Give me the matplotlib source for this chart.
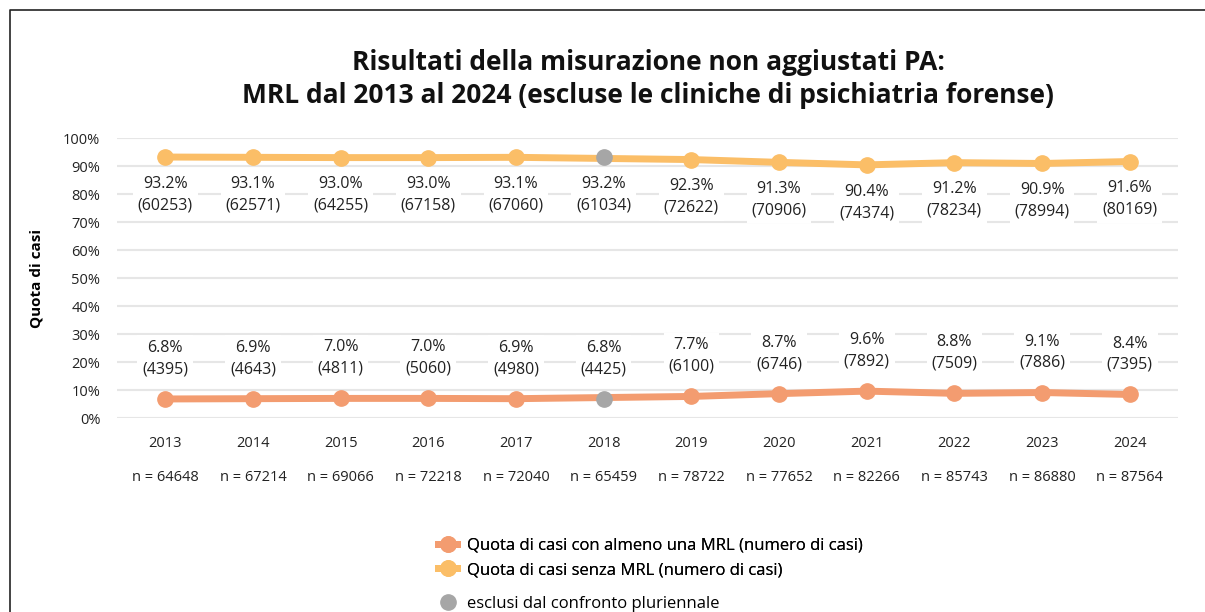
import matplotlib.pyplot as plt
from matplotlib.lines import Line2D
import numpy as np

plt.rcParams["font.family"] = ["Open Sans", "DejaVu Sans"]

years = [2013, 2014, 2015, 2016, 2017, 2018, 2019, 2020, 2021, 2022, 2023, 2024]
share_with = [6.8, 6.9, 7.0, 7.0, 6.9, 6.8, 7.7, 8.7, 9.6, 8.8, 9.1, 8.4]
cases_with = [4395, 4643, 4811, 5060, 4980, 4425, 6100, 6746, 7892, 7509, 7886, 7395]
share_without = [93.2, 93.1, 93.0, 93.0, 93.1, 93.2, 92.3, 91.3, 90.4, 91.2, 90.9, 91.6]
cases_without = [60253, 62571, 64255, 67158, 67060, 61034, 72622, 70906, 74374, 78234, 78994, 80169]
n_total = [64648, 67214, 69066, 72218, 72040, 65459, 78722, 77652, 82266, 85743, 86880, 87564]
excluded_years = [2018]

C_WITH = "#F39C70"
C_WITHOUT = "#FBBE67"
C_EXCL = "#A6A6A6"
TXT = "#222222"

fig = plt.figure(figsize=(12.05, 6.12), dpi=100)
ax = fig.add_axes([117 / 1205, 194 / 612, 1061 / 1205, 280 / 612])

x = np.array(years)
keep = ~np.isin(x, excluded_years)
excl = ~keep

for vals, color in ((share_without, C_WITHOUT), (share_with, C_WITH)):
    v = np.array(vals)
    ax.plot(x[keep], v[keep], color=color, lw=5, marker="o", ms=11,
            solid_capstyle="round", zorder=3)
    ax.plot(x[excl], v[excl], "o", color=C_EXCL, ms=11, zorder=4)

box = dict(boxstyle="square,pad=0.3", fc="white", ec="none")
for yr, s, c in zip(years, share_without, cases_without):
    ax.annotate(f"{s:.1f}%\n({c})", (yr, s), xytext=(0, -27), textcoords="offset points",
                ha="center", va="center", fontsize=11.5, color=TXT,
                linespacing=1.45, bbox=box, zorder=5)
for yr, s, c in zip(years, share_with, cases_with):
    ax.annotate(f"{s:.1f}%\n({c})", (yr, s), xytext=(0, 29), textcoords="offset points",
                ha="center", va="center", fontsize=11.5, color=TXT,
                linespacing=1.45, bbox=box, zorder=5)

ax.set_xlim(2012.45, 2024.55)
ax.set_ylim(0, 100)
ax.set_yticks(range(0, 101, 10))
ax.set_yticklabels([f"{t}%" for t in range(0, 101, 10)], fontsize=10.5, color=TXT)
ax.set_xticks(years)
ax.set_xticklabels([str(y) for y in years], fontsize=10.5, color=TXT)
ax.tick_params(length=0, axis="y", pad=12)
ax.tick_params(length=0, axis="x", pad=13)
ax.grid(axis="y", color="#E6E6E6", lw=1.5)
ax.set_axisbelow(True)
for sp in ax.spines.values():
    sp.set_visible(False)

for yr, n in zip(years, n_total):
    ax.annotate(f"n = {n}", (yr, 0), xytext=(0, -43), textcoords="offset points",
                ha="center", va="center", fontsize=10.5, color=TXT,
                annotation_clip=False)

ax.set_ylabel("Quota di casi", fontsize=11, fontweight="bold")
ax.yaxis.set_label_coords(-0.069, 0.5)

fig.text(0.538, 0.871, "Risultati della misurazione non aggiustati PA:\n"
         "MRL dal 2013 al 2024 (escluse le cliniche di psichiatria forense)",
         ha="center", va="center", fontsize=19, fontweight="bold",
         color="#111111", linespacing=1.25)

h1 = [Line2D([], [], color=C_WITH, lw=5, marker="o", ms=11),
      Line2D([], [], color=C_WITHOUT, lw=5, marker="o", ms=11)]
leg1 = fig.legend(h1, ["Quota di casi con almeno una MRL (numero di casi)",
                       "Quota di casi senza MRL (numero di casi)"],
                  loc="center left", bbox_to_anchor=(430 / 1205, 1 - 558 / 612),
                  frameon=False, fontsize=12, handlelength=1.1, handletextpad=0.6,
                  labelspacing=0.5, borderpad=0)
h2 = [Line2D([], [], color=C_EXCL, lw=0, marker="o", ms=11)]
fig.legend(h2, ["esclusi dal confronto pluriennale"],
           loc="center left", bbox_to_anchor=(430 / 1205, 1 - 604 / 612),
           frameon=False, fontsize=12, handlelength=1.1, handletextpad=0.6, borderpad=0)
fig.add_artist(leg1)

# outer frame (top and left edges)
fig.add_artist(Line2D([10 / 1205, 10 / 1205, 1], [0, 1 - 10 / 612, 1 - 10 / 612],
                      transform=fig.transFigure, color="#222222", lw=1.2))

fig.savefig("out.png", dpi=100, facecolor="white")
